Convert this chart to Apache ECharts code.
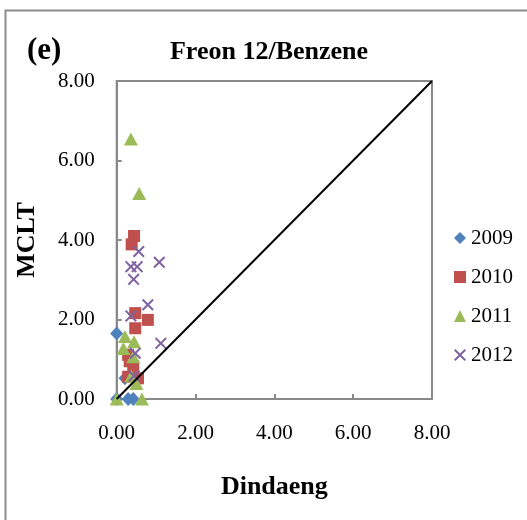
<!DOCTYPE html>
<html><head><meta charset="utf-8">
<script src="https://cdn.jsdelivr.net/npm/echarts@6/dist/echarts.min.js"></script>
<style>html,body{margin:0;padding:0;background:#fff}#c{width:527px;height:520px}</style>
</head><body><div id="c"></div>
<script>
var seriesNames = ['2009', '2010', '2011', '2012'];
var data2009 = [[0, 1.65], [0, 0], [0.29, 0], [0.42, 0], [0.21, 0.52]];
var data2010 = [[0.44, 4.10], [0.38, 3.89], [0.47, 2.16], [0.79, 1.99], [0.47, 1.78], [0.29, 1.11], [0.33, 0.95], [0.42, 0.81], [0.29, 0.56], [0.54, 0.52]];
var data2011 = [[0.36, 6.54], [0.57, 5.17], [0.21, 1.57], [0.44, 1.44], [0.17, 1.27], [0.42, 1.06], [0.37, 0.58], [0.5, 0.39], [0, 0], [0.64, 0]];
var data2012 = [[0.56, 3.71], [0.36, 3.33], [0.52, 3.33], [1.08, 3.44], [0.43, 3.01], [0.79, 2.37], [0.36, 2.09], [1.12, 1.40], [0.47, 1.15], [0.44, 0.58]];
var refLine = [[0, 0], [8, 8]];

var colors = ['#4F81BD', '#C0504D', '#9BBB59', '#8064A2'];
var xPath = 'path://M0,1.2 L1.2,0 L5,3.8 L8.8,0 L10,1.2 L6.2,5 L10,8.8 L8.8,10 L5,6.2 L1.2,10 L0,8.8 L3.8,5 Z';
var symbols = ['diamond', 'rect', 'triangle', xPath];
var sizes = [[13, 14], 12, [14, 13], 12];
var datasets = [data2009, data2010, data2011, data2012];
var serif = '"Liberation Serif", "Times New Roman", serif';

var series = seriesNames.map(function (n, i) {
  return {
    name: n, type: 'scatter', data: datasets[i], symbol: symbols[i], symbolSize: sizes[i],
    itemStyle: { color: colors[i], opacity: 1 }, z: 2 + i
  };
});
series.push({
  name: 'line', type: 'line', data: refLine, symbol: 'none', z: 10,
  lineStyle: { color: '#000', width: 2 }, silent: true
});

var chart = echarts.init(document.getElementById('c'), null, { renderer: 'canvas' });
chart.setOption({
  animation: false,
  backgroundColor: '#fff',
  textStyle: { fontFamily: serif },
  graphic: [
    { type: 'rect', shape: { x: 5.5, y: 10.5, width: 560, height: 560 }, style: { fill: 'none', stroke: '#8c8c8c', lineWidth: 2 }, z: -1 },
    { type: 'text', x: 27, y: 51, style: { text: '(e)', font: 'bold 31px ' + serif, fill: '#000', textVerticalAlign: 'middle' } },
    { type: 'text', x: 269, y: 52, style: { text: 'Freon 12/Benzene', font: 'bold 26px ' + serif, fill: '#000', textAlign: 'center', textVerticalAlign: 'middle' } }
  ],
  grid: { left: 116.7, right: 95, top: 81, bottom: 121, show: true, borderColor: '#898989', borderWidth: 2 },
  legend: {
    data: seriesNames.map(function (n, i) { return { name: n, icon: symbols[i] }; }),
    orient: 'vertical', left: 449, top: 222, itemWidth: 12, itemHeight: 12, itemGap: 17,
    textStyle: { fontSize: 21, fontFamily: serif, color: '#000', lineHeight: 22 }
  },
  xAxis: {
    type: 'value', min: 0, max: 8, interval: 2,
    name: 'Dindaeng', nameLocation: 'middle', nameGap: 75,
    nameTextStyle: { fontSize: 26, fontWeight: 'bold', fontFamily: serif, color: '#000' },
    axisLine: { lineStyle: { color: '#898989', width: 2 } },
    axisTick: { inside: true, length: 5, lineStyle: { color: '#898989', width: 2 } },
    axisLabel: { margin: 24, fontSize: 21, fontFamily: serif, color: '#000', formatter: function (v) { return v.toFixed(2); } },
    splitLine: { show: false }
  },
  yAxis: {
    type: 'value', min: 0, max: 8, interval: 2,
    name: 'MCLT', nameLocation: 'middle', nameGap: 76, nameRotate: 90,
    nameTextStyle: { fontSize: 26, fontWeight: 'bold', fontFamily: serif, color: '#000' },
    axisLine: { lineStyle: { color: '#898989', width: 2 } },
    axisTick: { inside: true, length: 5, lineStyle: { color: '#898989', width: 2 } },
    axisLabel: { margin: 22, fontSize: 21, fontFamily: serif, color: '#000', formatter: function (v) { return v.toFixed(2); } },
    splitLine: { show: false }
  },
  series: series
});
</script></body></html>
